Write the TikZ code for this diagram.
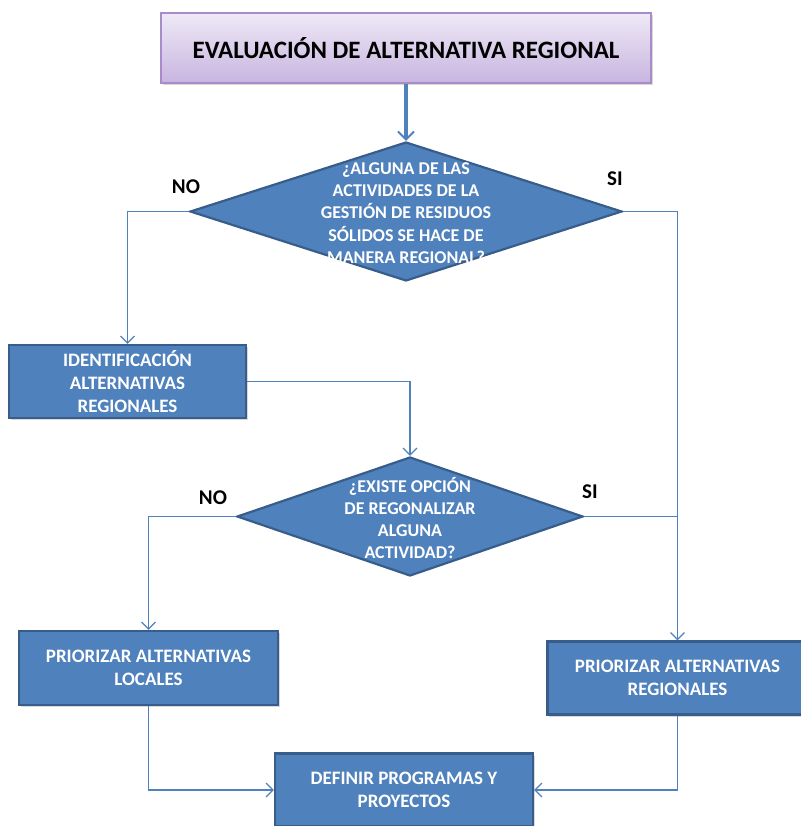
\documentclass[tikz,border=0pt]{standalone}
\usepackage{fontspec}
\setmainfont{Carlito}
\usetikzlibrary{shapes.geometric,arrows.meta,shadows}
\definecolor{titletop}{HTML}{EEE9F6}
\definecolor{titlebot}{HTML}{C8B5E0}
\definecolor{titleedge}{HTML}{A88CC9}
\definecolor{boxfill}{HTML}{4F81BD}
\definecolor{boxedge}{HTML}{385D8A}
\definecolor{linkcol}{HTML}{4F81BD}
\tikzset{
  box/.style    = {rectangle, draw=boxedge, line width=2.2pt, fill=boxfill, text=white,
                   align=center, inner sep=0pt,
                   font=\bfseries\fontsize{19}{23}\selectfont,
                   drop shadow={opacity=0.3, shadow xshift=1.5pt, shadow yshift=-2pt}},
  headbox/.style = {rectangle, draw=titleedge, line width=1.5pt, top color=titletop,
                   bottom color=titlebot, align=center, inner sep=0pt,
                   font=\bfseries\fontsize{25}{28}\selectfont,
                   drop shadow={opacity=0.3, shadow xshift=1.5pt, shadow yshift=-2pt}},
  query/.style  = {diamond, draw=boxedge, line width=2.2pt, fill=boxfill, inner sep=0pt},
  qtext/.style  = {text=white, align=center, inner sep=0pt,
                   font=\bfseries\fontsize{18}{22.2}\selectfont},
  answer/.style = {font=\bfseries\fontsize{21}{24}\selectfont, inner sep=0pt},
  link/.style   = {-{Straight Barb[length=7pt,width=14pt,line width=1.2pt]}, draw=linkcol, line width=1.2pt},
  joinline/.style = {draw=linkcol, line width=1.2pt},
  mainlink/.style = {-{Straight Barb[length=8pt,width=16pt,line width=2pt]}, draw=linkcol, line width=3.5pt},
}

\begin{document}
\begin{tikzpicture}[x=1pt, y=-1pt]
\useasboundingbox (0,0) rectangle (800,826);

\node[headbox, minimum width=490pt, minimum height=70pt] (head) at (406,48) {EVALUACIÓN DE ALTERNATIVA REGIONAL};

\node[query, minimum width=432pt, minimum height=139pt] (q1) at (406,211.5) {};
\node[qtext] (q1txt) at (406,213) {¿ALGUNA DE LAS\\ACTIVIDADES DE LA\\GESTIÓN DE RESIDUOS\\SÓLIDOS SE HACE DE\\MANERA REGIONAL?};
\node[answer] (no1) at (186,187) {NO};
\node[answer] (si1) at (615,179) {SI};

\node[box, minimum width=237pt, minimum height=73pt] (ident) at (127.5,381.5) {IDENTIFICACIÓN\\ALTERNATIVAS\\REGIONALES};

\node[query, minimum width=346pt, minimum height=119pt] (q2) at (410,516.5) {};
\node[qtext] (q2txt) at (410,518) {¿EXISTE OPCIÓN\\DE REGONALIZAR\\ALGUNA\\ACTIVIDAD?};
\node[answer] (no2) at (213,498) {NO};
\node[answer] (si2) at (590,492) {SI};

\node[box, minimum width=259pt, minimum height=74pt] (loc) at (148.5,668) {PRIORIZAR ALTERNATIVAS\\LOCALES};
\node[box, minimum width=260pt, minimum height=73pt] (reg) at (677.5,678) {PRIORIZAR ALTERNATIVAS\\REGIONALES};
\node[box, minimum width=258pt, minimum height=73pt] (def) at (404,790) {DEFINIR PROGRAMAS Y\\PROYECTOS};

\draw[mainlink] (head) -- (q1);
\draw[link] (q1.west) -| (ident.north);
\draw[link] (ident.east) -| (q2.north);
\draw[link] (q1.east) -| (reg.north);
\draw[joinline] (q2.east) -- (q2.east -| reg.north);
\draw[link] (q2.west) -| (loc.north);
\draw[link] (loc.south) |- (def.west);
\draw[link] (reg.south) |- (def.east);

\end{tikzpicture}
\end{document}
